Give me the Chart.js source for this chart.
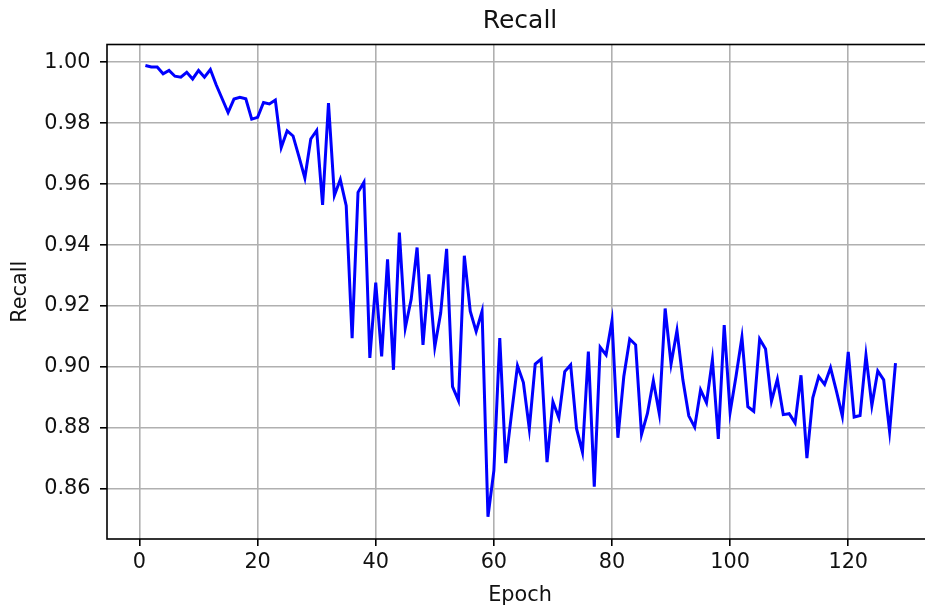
<!DOCTYPE html>
<html lang="en">
<head>
  <meta charset="UTF-8">
  <title>Recall</title>
  <script src="https://cdn.jsdelivr.net/npm/chart.js"></script>
  <style>
    html, body { margin: 0; padding: 0; background: #fff; overflow: hidden; width: 925px; height: 609px; }
    #wrap { width: 925px; height: 609px; overflow: hidden; position: relative; }
    #recallChart { position: absolute; left: 0; top: 0; }
  </style>
</head>
<body>
  <div id="wrap">
    <canvas id="recallChart" width="933" height="609"></canvas>
  </div>
  <script>
    const epochs = [
      1, 2, 3, 4, 5, 6, 7, 8, 9, 10, 11, 12, 13, 14, 15, 16, 17, 18, 19, 20,
      21, 22, 23, 24, 25, 26, 27, 28, 29, 30, 31, 32, 33, 34, 35, 36, 37, 38, 39, 40,
      41, 42, 43, 44, 45, 46, 47, 48, 49, 50, 51, 52, 53, 54, 55, 56, 57, 58, 59, 60,
      61, 62, 63, 64, 65, 66, 67, 68, 69, 70, 71, 72, 73, 74, 75, 76, 77, 78, 79, 80,
      81, 82, 83, 84, 85, 86, 87, 88, 89, 90, 91, 92, 93, 94, 95, 96, 97, 98, 99, 100,
      101, 102, 103, 104, 105, 106, 107, 108, 109, 110, 111, 112, 113, 114, 115, 116, 117, 118, 119, 120,
      121, 122, 123, 124, 125, 126, 127, 128
    ];
    const recall = [
      0.9989, 0.9984, 0.9984, 0.9962, 0.9973, 0.9954, 0.9951, 0.9967, 0.9945, 0.9973,
      0.9951, 0.9976, 0.9925, 0.9880, 0.9835, 0.9879, 0.9885, 0.9880, 0.9813, 0.9819,
      0.9868, 0.9863, 0.9876, 0.9720, 0.9775, 0.9758, 0.9690, 0.9620, 0.9748, 0.9776,
      0.9532, 0.9866, 0.9563, 0.9615, 0.9529, 0.9095, 0.9573, 0.9606, 0.9030, 0.9277,
      0.9035, 0.9353, 0.8991, 0.9441, 0.9128, 0.9222, 0.9392, 0.9073, 0.9304, 0.9066,
      0.9178, 0.9388, 0.8936, 0.8890, 0.9365, 0.9183, 0.9117, 0.9183, 0.8509, 0.8660,
      0.9095, 0.8685, 0.8848, 0.9004, 0.8949, 0.8798, 0.9010, 0.9026, 0.8688, 0.8886,
      0.8834, 0.8985, 0.9007, 0.8798, 0.8721, 0.9051, 0.8608, 0.9065, 0.9040, 0.9152,
      0.8768, 0.8969, 0.9092, 0.9073, 0.8779, 0.8848, 0.8955, 0.8848, 0.9192, 0.9010,
      0.9120, 0.8958, 0.8840, 0.8803, 0.8925, 0.8883, 0.9024, 0.8764, 0.9138, 0.8852,
      0.8970, 0.9098, 0.8870, 0.8855, 0.9092, 0.9059, 0.8888, 0.8960, 0.8844, 0.8847,
      0.8817, 0.8973, 0.8701, 0.8899, 0.8969, 0.8943, 0.8998, 0.8921, 0.8839, 0.9050,
      0.8836, 0.8841, 0.9039, 0.8874, 0.8987, 0.8958, 0.8789, 0.9013
    ];
    const xTicks = [0, 20, 40, 60, 80, 100, 120];
    const yTicks = [0.86, 0.88, 0.90, 0.92, 0.94, 0.96, 0.98, 1.00];

    const FONT = 'DejaVu Sans';
    const TEXT = '#111';

    // box around the plot area, like matplotlib spines
    const frame = {
      id: 'frame',
      afterDraw(chart) {
        const { ctx, chartArea: a } = chart;
        ctx.save();
        ctx.strokeStyle = '#000';
        ctx.lineWidth = 1.6;
        ctx.strokeRect(a.left, a.top, a.right - a.left, a.bottom - a.top);
        ctx.restore();
      }
    };

    const gridOpts = {
      color: '#b0b0b0',
      lineWidth: 1.6,
      tickColor: '#000',
      tickLength: 7,
      tickWidth: 1.6
    };

    new Chart(document.getElementById('recallChart'), {
      type: 'line',
      data: {
        datasets: [{
          label: 'Recall',
          data: epochs.map((e, i) => ({ x: e, y: recall[i] })),
          borderColor: '#0000ff',
          borderWidth: 3,
          pointRadius: 0,
          tension: 0,
          fill: false
        }]
      },
      options: {
        responsive: false,
        animation: false,
        devicePixelRatio: 1,
        layout: { padding: 0 },
        plugins: {
          legend: { display: false },
          tooltip: { enabled: false },
          title: {
            display: true,
            text: 'Recall',
            fullSize: false,
            color: TEXT,
            font: { family: FONT, size: 25, weight: 'normal' },
            padding: { top: 6.8, bottom: 7.7 }
          }
        },
        scales: {
          x: {
            type: 'linear',
            min: -5.5,
            max: 134.35,
            afterBuildTicks: axis => { axis.ticks = xTicks.map(v => ({ value: v })); },
            afterFit: scale => { scale.height = 70; },
            grid: gridOpts,
            border: { display: false },
            ticks: {
              color: TEXT,
              font: { family: FONT, size: 20.8 },
              padding: 4,
              maxRotation: 0,
              autoSkip: false,
              callback: v => String(v)
            },
            title: {
              display: true,
              text: 'Epoch',
              color: TEXT,
              font: { family: FONT, size: 20.8 },
              padding: { top: 0, bottom: 0.5 }
            }
          },
          y: {
            min: 0.8436,
            max: 1.0058,
            afterBuildTicks: axis => { axis.ticks = yTicks.map(v => ({ value: v })); },
            afterFit: scale => { scale.width = 107; },
            grid: gridOpts,
            border: { display: false },
            ticks: {
              color: TEXT,
              font: { family: FONT, size: 20.8 },
              padding: 9.5,
              autoSkip: false,
              callback: v => v.toFixed(2)
            },
            title: {
              display: true,
              text: 'Recall',
              color: TEXT,
              font: { family: FONT, size: 20.8 },
              padding: { top: 8, bottom: 0 }
            }
          }
        }
      },
      plugins: [frame]
    });
  </script>
</body>
</html>
